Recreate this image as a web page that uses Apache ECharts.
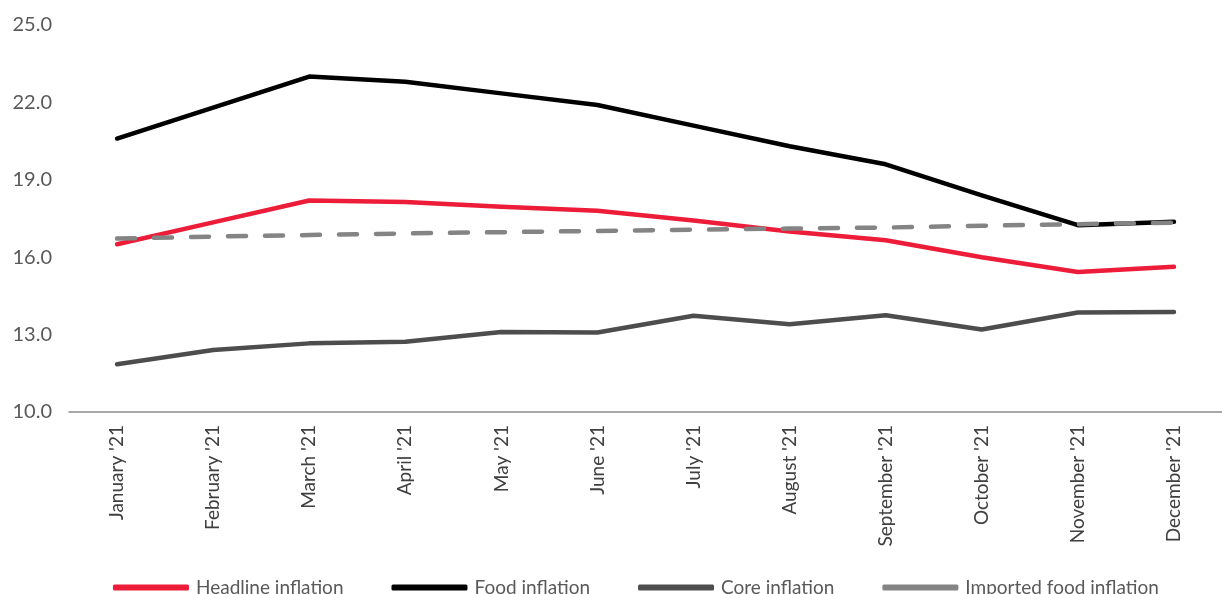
<!DOCTYPE html>
<html>
<head>
<meta charset="utf-8">
<script src="https://cdn.jsdelivr.net/npm/echarts@6/dist/echarts.min.js"></script>
<style>
  html, body { margin: 0; padding: 0; background: #fff; }
  #main { width: 1222px; height: 594px; }
</style>
</head>
<body>
<div id="main"></div>
<script>
var months = ["January '21", "February '21", "March '21", "April '21", "May '21", "June '21",
  "July '21", "August '21", "September '21", "October '21", "November '21", "December '21"];

var headline = [16.5, 17.35, 18.2, 18.14, 17.96, 17.8, 17.42, 17.0, 16.66, 16.0, 15.43, 15.63];
var food = [20.6, 21.8, 23.0, 22.8, 22.35, 21.9, 21.1, 20.3, 19.6, 18.4, 17.24, 17.37];
var core = [11.85, 12.4, 12.66, 12.72, 13.1, 13.08, 13.73, 13.4, 13.75, 13.2, 13.86, 13.88];
var importedFood = [16.72, 16.8, 16.86, 16.92, 16.97, 17.02, 17.07, 17.11, 17.15, 17.22, 17.28, 17.34];

var yTicks = { min: 10, max: 25, step: 3 };

var chart = echarts.init(document.getElementById('main'));

function lineSeries(name, data, color, dashed) {
  return {
    name: name,
    type: 'line',
    data: data,
    showSymbol: false,
    symbol: 'none',
    lineStyle: {
      color: color,
      width: 4.5,
      type: dashed ? [18, 19] : 'solid',
      cap: 'round',
      join: 'round'
    },
    itemStyle: { color: color }
  };
}

var option = {
  animation: false,
  backgroundColor: '#fff',
  textStyle: { fontFamily: 'Lato' },
  grid: {
    left: 69,
    top: 25,
    width: 1168,
    bottom: 182,
    containLabel: false
  },
  legend: {
    left: 113,
    top: 578,
    padding: 0,
    icon: 'roundRect',
    itemWidth: 76,
    itemHeight: 6,
    itemGap: 48,
    textStyle: { fontFamily: 'Lato', fontSize: 19, color: '#595959', padding: [0, 0, 0, 2] },
    data: ['Headline inflation', 'Food inflation', 'Core inflation', 'Imported food inflation']
  },
  xAxis: {
    type: 'category',
    data: months,
    boundaryGap: true,
    axisLine: { show: true, lineStyle: { color: '#8c8c8c', width: 1.5 } },
    axisTick: { show: false },
    axisLabel: {
      interval: 0,
      rotate: 90,
      margin: 13,
      fontFamily: 'Lato',
      fontSize: 19,
      color: '#404040'
    }
  },
  yAxis: {
    type: 'value',
    min: yTicks.min,
    max: yTicks.max,
    interval: yTicks.step,
    axisLine: { show: false },
    axisTick: { show: false },
    splitLine: { show: false },
    axisLabel: {
      margin: 17,
      fontFamily: 'Lato',
      fontSize: 20,
      color: '#595959',
      formatter: function (v) { return v.toFixed(1); }
    }
  },
  series: [
    lineSeries('Headline inflation', headline, '#ed1c38', false),
    lineSeries('Food inflation', food, '#000000', false),
    lineSeries('Core inflation', core, '#4d4d4d', false),
    lineSeries('Imported food inflation', importedFood, '#848484', true)
  ]
};

chart.setOption(option);
</script>
</body>
</html>
